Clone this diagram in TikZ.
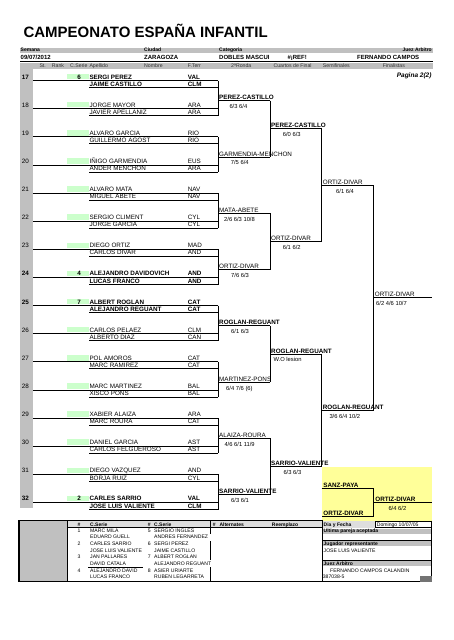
\documentclass[tikz,border=0pt]{standalone}
\usepackage{fontspec}
\setmainfont{Liberation Sans}
\usetikzlibrary{calc}

\definecolor{cellgray}{RGB}{192,192,192}
\definecolor{headgray}{RGB}{222,222,222}
\definecolor{seedgreen}{RGB}{204,255,204}
\definecolor{finalyellow}{RGB}{255,255,153}

\begin{document}
\begin{tikzpicture}[x=1pt, y=-1pt,
  every node/.style={inner sep=0pt, anchor=base west},
  title/.style={font=\fontsize{15}{15}\selectfont\bfseries},
  sheet label/.style={font=\fontsize{5}{5}\selectfont\bfseries},
  sheet value/.style={font=\fontsize{6}{6}\selectfont\bfseries},
  column label/.style={font=\fontsize{5.2}{5.2}\selectfont, text=black!80},
  player/.style={font=\fontsize{6.3}{7}\selectfont},
  seeded/.style={font=\fontsize{6.3}{7}\selectfont\bfseries},
  player 17/.style=seeded, player 24/.style=seeded,
  player 25/.style=seeded, player 32/.style=seeded,
  winner/.style={font=\fontsize{6.3}{7}\selectfont},
  winner b/.style=seeded,
  score/.style={font=\fontsize{5.8}{6}\selectfont},
  list text/.style={font=\fontsize{5.1}{5.1}\selectfont},
  list head/.style={font=\fontsize{5}{5}\selectfont\bfseries},
  boxline/.style={line width=0.9pt},
  bracket/.style={line width=0.8pt}]

  \fill[white] (0,0) rectangle (453,640);
  \useasboundingbox (0,0) rectangle (453,640);

  \node[title] (title) at (23.3,37) {CAMPEONATO ESPAÑA INFANTIL};

  \fill[cellgray] (20,47.7) rectangle (433,52.7);
  \fill[cellgray] (20,62.5) rectangle (433,68.5);
  \fill[cellgray] (20,68.5) rectangle (33.3,508.3);
  \fill[finalyellow] (321.7,466.7) rectangle (431.7,520.7);
  \draw[line width=1.5pt] (20,61.4) -- (433,61.4);

  \foreach \t/\x [count=\k] in {Semana/20.5, Ciudad/144, Categoria/219}
    \node[sheet label] (hl-\k) at (\x,51.6) {\t};
  \node[sheet label, anchor=base east] (hl-4) at (432,51.6) {Juez Arbitro};

  \foreach \t/\x [count=\k] in {{09/07/2012}/20.5, ZARAGOZA/144, DOBLES MASCUI/219, \#¡REF!/287.3, FERNANDO CAMPOS/357}
    \node[sheet value] (hv-\k) at (\x,59.3) {\t};

  \foreach \t/\x [count=\k] in {St./39.3, Rank/51.7, C.Serie/70, Apellido/89.3, Nombre/144, F.Terr/187.7, 2ªRonda/231, Cuartos de Final/273.3, Semifinales/322.7, Finalistas/382.7}
    \node[column label] (cl-\k) at (\x,67.2) {\t};

  \node[font=\fontsize{6.5}{6.5}\selectfont\bfseries\itshape, anchor=base east] (page) at (431.7,77.7) {Pagina 2(2)};

  \coordinate (c1) at (218,0);
  \coordinate (c2) at (270,0);
  \coordinate (c3) at (321.7,0);
  \coordinate (c4) at (373.7,0);
  \coordinate (c5) at (431.7,0);

  % draw
  \foreach \n/\sd/\pa/\fa/\pb/\fb in {
      17/6/SERGI PEREZ/VAL/JAIME CASTILLO/CLM,
      18//JORGE MAYOR/ARA/JAVIER APELLANIZ/ARA,
      19//ALVARO GARCIA/RIO/GUILLERMO AGOST/RIO,
      20//IÑIGO GARMENDIA/EUS/ANDER MENCHON/ARA,
      21//ALVARO MATA/NAV/MIGUEL ABETE/NAV,
      22//SERGIO CLIMENT/CYL/JORGE GARCIA/CYL,
      23//DIEGO ORTIZ/MAD/CARLOS DIVAR/AND,
      24/4/ALEJANDRO DAVIDOVICH/AND/LUCAS FRANCO/AND,
      25/7/ALBERT ROGLAN/CAT/ALEJANDRO REGUANT/CAT,
      26//CARLOS PELAEZ/CLM/ALBERTO DIAZ/CAN,
      27//POL AMOROS/CAT/MARC RAMIREZ/CAT,
      28//MARC MARTINEZ/BAL/XISCO PONS/BAL,
      29//XABIER ALAIZA/ARA/MARC ROURA/CAT,
      30//DANIEL GARCIA/AST/CARLOS FELGUEROSO/AST,
      31//DIEGO VAZQUEZ/AND/BORJA RUIZ/CYL,
      32/2/CARLES SARRIO/VAL/JOSE LUIS VALIENTE/CLM}{
    \pgfmathsetmacro\rowy{79+28.13*(\n-17)}
    \fill[seedgreen] (66.7,\rowy-5.2) rectangle (89.3,\rowy+0.3);
    \node[player, player \n/.try] (num-\n) at (21.7,\rowy) {\n};
    \node[player, player \n/.try, anchor=base east] (sd-\n) at (81,\rowy) {\sd};
    \node[player, player \n/.try] (pa-\n) at (89.3,\rowy) {\pa};
    \node[player, player \n/.try] (fa-\n) at (187.7,\rowy) {\fa};
    \node[player, player \n/.try] (pb-\n) at (89.3,\rowy+7.2) {\pb};
    \node[player, player \n/.try] (fb-\n) at (187.7,\rowy+7.2) {\fb};
    \draw[boxline] (33.3,\rowy+1.6) -- (218,\rowy+1.6);
    \draw[boxline] (89.3,\rowy+8.6) -- (218,\rowy+8.6);
  }

  \foreach \w/\sc/\sx/\wt [count=\k] in {
      PEREZ-CASTILLO/{6/3 6/4}/11.3/b,
      GARMENDIA-MENCHON/{7/5 6/4}/12.7/n,
      MATA-ABETE/{2/6 6/3 10/8}/6/n,
      ORTIZ-DIVAR/{7/6 6/3}/13/n,
      ROGLAN-REGUANT/{6/1 6/3}/13/b,
      MARTINEZ-PONS/{6/4 7/6 (6)}/8/n,
      ALAIZA-ROURA/{4/6 6/1 11/9}/6.3/n,
      SARRIO-VALIENTE/{6/3 6/1}/13/b}{
    \pgfmathsetmacro\ytop{79+28.13*(2*\k-2)+1.6}
    \pgfmathsetmacro\ybot{79+28.13*(2*\k-1)+8.6}
    \pgfmathsetmacro\yw{79+28.13*(2*\k-1)-6.4}
    \draw[boxline] (218,\ytop) -- (218,\ybot);
    \coordinate (a1-\k) at (218,\yw);
    \draw[bracket] (a1-\k) -- (a1-\k -| c2);
    \node[winner, winner \wt/.try] (w1-\k) at ([xshift=1, yshift=0.9]a1-\k) {\w};
    \node[score] (s1-\k) at ([xshift=\sx, yshift=-8]a1-\k) {\sc};
  }

  \foreach \w/\sc/\sx/\wt [count=\k] in {
      PEREZ-CASTILLO/{6/0 6/3}/12.7/b,
      ORTIZ-DIVAR/{6/1 6/2}/12.7/n,
      ROGLAN-REGUANT/{W.O lesion}/3.3/b,
      SARRIO-VALIENTE/{6/3 6/3}/13.3/b}{
    \pgfmathtruncatemacro\ka{2*\k-1}
    \pgfmathtruncatemacro\kb{2*\k}
    \draw[bracket] (a1-\ka -| c2) -- (a1-\kb -| c2);
    \coordinate (a2-\k) at ($(a1-\ka -| c2)!0.5!(a1-\kb -| c2)$);
    \draw[bracket] (a2-\k) -- (a2-\k -| c3);
    \node[winner, winner \wt/.try] (w2-\k) at ([xshift=1, yshift=0.9]a2-\k) {\w};
    \node[score] (s2-\k) at ([xshift=\sx, yshift=-8]a2-\k) {\sc};
  }

  \foreach \w/\sc/\sx/\wt [count=\k] in {
      ORTIZ-DIVAR/{6/1 6/4}/14.3/n,
      ROGLAN-REGUANT/{3/6 6/4 10/2}/7.6/b}{
    \pgfmathtruncatemacro\ka{2*\k-1}
    \pgfmathtruncatemacro\kb{2*\k}
    \draw[bracket] (a2-\ka -| c3) -- (a2-\kb -| c3);
    \coordinate (a3-\k) at ($(a2-\ka -| c3)!0.5!(a2-\kb -| c3)$);
    \draw[bracket] (a3-\k) -- (a3-\k -| c4);
    \node[winner, winner \wt/.try] (w3-\k) at ([xshift=1, yshift=0.9]a3-\k) {\w};
    \node[score] (s3-\k) at ([xshift=\sx, yshift=-8]a3-\k) {\sc};
  }

  \draw[bracket] (a3-1 -| c4) -- (a3-2 -| c4);
  \coordinate (a4-1) at ($(a3-1 -| c4)!0.5!(a3-2 -| c4)$);
  \draw[bracket] (a4-1) -- (a4-1 -| c5);
  \node[winner] (w4-1) at ([xshift=1, yshift=0.9]a4-1) {ORTIZ-DIVAR};
  \node[score] (s4-1) at ([xshift=2.3, yshift=-8]a4-1) {6/2 4/6 10/7};

  \coordinate (f-a) at (321.7,488.3);
  \coordinate (f-b) at (321.7,516);
  \draw[boxline] (f-a) -- (f-a -| c4) -- (f-b -| c4) -- (f-b);
  \coordinate (f-w) at ($(f-a -| c4)!0.5!(f-b -| c4)$);
  \draw[bracket] (f-w) -- (f-w -| c5);
  \node[winner b] (fa) at ([xshift=1.5, yshift=0.9]f-a) {SANZ-PAYA};
  \node[winner b] (fb) at ([xshift=1.5, yshift=0.9]f-b) {ORTIZ-DIVAR};
  \node[winner b] (fw) at ([xshift=1.5, yshift=0.9]f-w) {ORTIZ-DIVAR};
  \node[score] (fs) at ([xshift=14.6, yshift=-8]f-w) {6/4 6/2};

  \fill[cellgray] (19,520.7) rectangle (67.3,581.7);
  \fill[headgray] (67.3,520.7) rectangle (322.7,527.7);
  \draw[line width=0.5pt] (67.3,527.7) -- (322.7,527.7);
  \draw[line width=1.2pt] (19,520.7) rectangle (322.7,581.7);
  \draw[line width=1.2pt] (67.3,520.7) -- (67.3,581.7);
  \foreach \ya/\yb in {520.7/534, 541/560, 567/581.7}
    \draw[line width=0.6pt] (210.7,\ya) -- (210.7,\yb);

  \foreach \t/\x [count=\k] in {\#/77.3, C.Serie/90, \#/147.7, C.Serie/154, \#/212.7, Alternates/219.3, Reemplazo/271.7}
    \node[list head] (lh-\k) at (\x,526) {\t};

  \foreach \pa/\pb/\pc/\pd [count=\k] in {
      MARC MILA/EDUARD GUELL/SERGIO INGLES/ANDRES FERNANDEZ,
      CARLES SARRIO/JOSE LUIS VALIENTE/SERGI PEREZ/JAIME CASTILLO,
      JAN PALLARES/DAVID CATALA/ALBERT ROGLAN/ALEJANDRO REGUANT,
      ALEJANDRO DAVID/LUCAS FRANCO/ASIER URIARTE/RUBEN LEGARRETA}{
    \pgfmathsetmacro\ly{532.3+13.33*(\k-1)}
    \pgfmathtruncatemacro\kk{\k+4}
    \node[list text] (ln-\k) at (77.3,\ly) {\k};
    \node[list text] (lp-\k) at (90,\ly) {\pa};
    \node[list text] (lq-\k) at (90,\ly+6.67) {\pb};
    \node[list text] (ln-\kk) at (147.7,\ly) {\kk};
    \node[list text] (lr-\k) at (154,\ly) {\pc};
    \node[list text] (ls-\k) at (154,\ly+6.67) {\pd};
  }
  \draw[line width=0.6pt] ([xshift=-2, yshift=-1.7]lq-3.base west) -- ++(55,0);

  \fill[headgray] (322.7,520.7) rectangle (375,527.7);
  \draw[line width=0.6pt] (375,521.3) rectangle (431.7,527.7);
  \foreach \ya in {528.7, 541.3, 561.3}
    \fill[cellgray] (322.7,\ya) rectangle (431.7,\ya+5);
  \foreach \ya in {540.7, 560.7, 581.7}
    \draw[line width=1.2pt] (322.7,\ya) -- (431.7,\ya);
  \draw[line width=0.6pt] (431.7,520.7) -- (431.7,581.7);
  \fill[black!55] (420,575.5) rectangle (431.7,581.7);

  \node[list head] (dia) at (323.5,526.3) {Dia y Fecha};
  \node[list text] (fecha) at (376.7,526.3) {Domingo 10/07/05};
  \node[list head] (ultima) at (323.5,532.9) {Ultima pareja aceptada};
  \node[list head] (jugador) at (323.5,545.5) {Jugador representante};
  \node[list text] (repr) at (323.5,552.7) {JOSE LUIS VALIENTE};
  \node[list head] (juez) at (323.5,565.5) {Juez Arbitro};
  \node[list text] (juezname) at (330,572.3) {FERNANDO CAMPOS CALANDIN};
  \node[list text] (licencia) at (322.7,578.7) {387038-5};

\end{tikzpicture}
\end{document}
